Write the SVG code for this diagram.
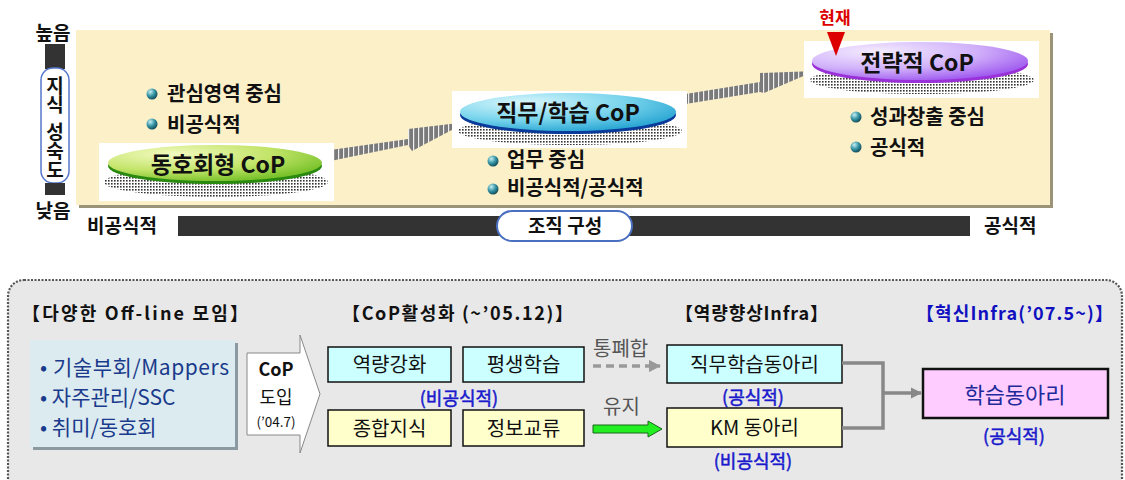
<svg xmlns="http://www.w3.org/2000/svg" width="1125" height="480" viewBox="0 0 1125 480">
<defs>
<style>
text{font-family:"Noto Sans CJK KR","Noto Sans",sans-serif;}
.lbl{font-size:20px;font-weight:bold;fill:#111;}
.ax{font-size:19px;font-weight:bold;fill:#111;}
.cop{font-size:23px;font-weight:bold;fill:#111;text-anchor:middle;}
.hdr{font-size:18px;font-weight:bold;fill:#111;}
.box{stroke:#111;stroke-width:1.5;}
.cy{fill:#ccffff;}
.ye{fill:#ffffcc;}
.bt{font-size:20px;fill:#111;text-anchor:middle;}
.blue{fill:#1a1acc;stroke:#1a1acc;stroke-width:0.5;font-size:18px;text-anchor:middle;}
.navy{font-size:21px;fill:#1a3a8c;}
.conn{fill:none;stroke:#888;stroke-width:3.5;}
.side{font-size:20px;fill:#555;}
.vt{font-size:19px;font-weight:bold;fill:#111;writing-mode:vertical-rl;text-orientation:upright;}
</style>
<radialGradient id="ball" cx="0.35" cy="0.3" r="0.75"><stop offset="0" stop-color="#c8eef2"/><stop offset="0.5" stop-color="#3a98a8"/><stop offset="1" stop-color="#0c4656"/></radialGradient>
<pattern id="dots" width="3" height="3" patternUnits="userSpaceOnUse"><rect width="1.6" height="1.6" fill="#333"/></pattern>
<pattern id="hatch" width="5" height="5" patternUnits="userSpaceOnUse"><rect width="5" height="5" fill="#7a7a7a"/><rect x="3" width="1.2" height="5" fill="#f0f0f0"/></pattern>
<radialGradient id="gGreen" cx="0.3" cy="0.25" r="0.85"><stop offset="0" stop-color="#f2fac0"/><stop offset="0.55" stop-color="#c2e468"/><stop offset="1" stop-color="#6cbc20"/></radialGradient>
<radialGradient id="gCyan" cx="0.3" cy="0.25" r="0.85"><stop offset="0" stop-color="#d8f6fc"/><stop offset="0.55" stop-color="#78d4ec"/><stop offset="1" stop-color="#20a0d0"/></radialGradient>
<radialGradient id="gPurp" cx="0.3" cy="0.25" r="0.85"><stop offset="0" stop-color="#f4ecff"/><stop offset="0.55" stop-color="#d0b0fa"/><stop offset="1" stop-color="#9a50ee"/></radialGradient>
<marker id="ah" viewBox="0 0 10 10" refX="9" refY="5" markerWidth="3.2" markerHeight="3.2" orient="auto"><path d="M0,0 L10,5 L0,10 z" fill="#888"/></marker>
<marker id="ahd" viewBox="0 0 10 10" refX="9" refY="5" markerWidth="3.5" markerHeight="3.5" orient="auto"><path d="M0,0 L10,5 L0,10 z" fill="#999"/></marker>
</defs>

<!-- top panel -->
<g id="top-panel">
<rect x="79" y="33" width="974" height="175" fill="#9c9478"/>
<rect x="76" y="30" width="974" height="175" fill="#fcf0c8"/>
</g>

<!-- vertical axis -->
<g id="axis-y">
<text class="ax" x="53" y="40" text-anchor="middle">높음</text>
<rect x="45" y="44" width="20" height="25" fill="#333"/>
<rect x="41" y="68" width="28" height="115" rx="12" fill="#fff" stroke="#5577cc" stroke-width="1.5"/>
<text class="vt" x="55" y="76">지식<tspan x="55" y="122">성숙도</tspan></text>
<rect x="45" y="183" width="20" height="12" fill="#333"/>
<text class="ax" x="53" y="218" text-anchor="middle">낮음</text>
</g>

<!-- horizontal axis -->
<g id="axis-x">
<text class="ax" x="87" y="233">비공식적</text>
<rect x="178" y="216" width="792" height="20" fill="#333"/>
<rect x="497" y="211" width="135" height="30" rx="15" fill="#fff" stroke="#4a6fc0" stroke-width="2"/>
<text class="ax" x="565" y="233" text-anchor="middle">조직 구성</text>
<text class="ax" x="984" y="233">공식적</text>
</g>

<!-- connectors top -->
<g id="top-connectors">
<polygon points="316,152 408,139 408,129 467,122 412,151 408,145 316,164" fill="url(#hatch)"/>
<polygon points="667,97 760,82 760,73 815,71 764,93 760,92 667,107" fill="url(#hatch)"/>
</g>

<!-- CoP nodes -->
<g id="cop-hobby">
<rect x="99" y="143" width="235" height="58" fill="#fff"/>
<ellipse cx="216" cy="182" rx="112" ry="15" fill="url(#dots)"/>
<ellipse cx="215" cy="166" rx="107" ry="18" fill="#2a8a10"/>
<ellipse cx="215" cy="163" rx="107" ry="18" fill="url(#gGreen)"/>
<text class="cop" x="218" y="173">동호회형 CoP</text>
</g>
<g id="cop-job">
<rect x="452" y="91" width="235" height="57" fill="#fff"/>
<ellipse cx="570" cy="131" rx="112" ry="14" fill="url(#dots)"/>
<ellipse cx="568" cy="115" rx="108" ry="19" fill="#0a3a9a"/>
<ellipse cx="568" cy="112" rx="108" ry="19" fill="url(#gCyan)"/>
<text class="cop" x="568" y="121">직무/학습 CoP</text>
</g>
<g id="cop-strategy">
<rect x="804" y="41" width="235" height="57" fill="#fff"/>
<ellipse cx="922" cy="80" rx="112" ry="14" fill="url(#dots)"/>
<ellipse cx="920" cy="64" rx="108" ry="19" fill="#9a30d8"/>
<ellipse cx="920" cy="61" rx="108" ry="19" fill="url(#gPurp)"/>
<text class="cop" x="917" y="71">전략적 CoP</text>
</g>

<!-- current marker -->
<g id="current">
<text x="835" y="24" text-anchor="middle" style="font-size:17px;font-weight:bold;fill:#dd0000;">현재</text>
<polygon points="827,32 845,32 836,56" fill="#dd0000"/>
</g>

<!-- bullets -->
<g id="bullets-hobby">
<circle cx="152" cy="94" r="5.5" fill="url(#ball)"/>
<text class="lbl" x="167" y="101">관심영역 중심</text>
<circle cx="152" cy="124" r="5.5" fill="url(#ball)"/>
<text class="lbl" x="167" y="132">비공식적</text>
</g>
<g id="bullets-job">
<circle cx="493" cy="161" r="5.5" fill="url(#ball)"/>
<text class="lbl" x="507" y="167">업무 중심</text>
<circle cx="493" cy="189" r="5.5" fill="url(#ball)"/>
<text class="lbl" x="507" y="195">비공식적/공식적</text>
</g>
<g id="bullets-strategy">
<circle cx="856" cy="117" r="5.5" fill="url(#ball)"/>
<text class="lbl" x="870" y="124">성과창출 중심</text>
<circle cx="856" cy="147" r="5.5" fill="url(#ball)"/>
<text class="lbl" x="870" y="155">공식적</text>
</g>

<!-- bottom panel -->
<g id="bottom-panel">
<rect x="8" y="280" width="1114" height="215" rx="16" fill="#e8e8e8" stroke="#555" stroke-width="2.2" stroke-dasharray="2,1.5"/>
<text class="hdr" x="22" y="320" textLength="226">【다양한 Off-line 모임】</text>
<text class="hdr" x="342" y="320" textLength="231">【CoP활성화 (~’05.12)】</text>
<text class="hdr" x="675" y="320" textLength="153">【역량향상Infra】</text>
<text class="hdr" x="916" y="320" textLength="197" style="fill:#1010c0;">【혁신Infra(’07.5~)】</text>
</g>

<g id="offline">
<rect x="33" y="343" width="205" height="107" fill="#8a9aa0"/>
<rect x="30" y="340" width="205" height="107" fill="#dcebef"/>
<text class="navy" x="40" y="375" textLength="189">• 기술부회/Mappers</text>
<text class="navy" x="40" y="405">• 자주관리/SSC</text>
<text class="navy" x="40" y="435">• 취미/동호회</text>
</g>

<g id="cop-intro">
<polygon points="247,353 300,353 300,335 320,394 300,453 300,435 247,435" fill="#fff" stroke="#888" stroke-width="1"/>
<text x="276" y="376" text-anchor="middle" style="font-size:18px;font-weight:bold;fill:#111;">CoP</text>
<text x="276" y="404" text-anchor="middle" style="font-size:18px;fill:#111;">도입</text>
<text x="276" y="427" text-anchor="middle" style="font-size:13.5px;fill:#111;">(’04.7)</text>
</g>

<g id="box-capability"><rect class="box cy" x="328" y="347" width="123" height="35"/><text class="bt" x="389.5" y="372">역량강화</text></g>
<g id="box-lifelong"><rect class="box cy" x="463" y="347" width="121" height="35"/><text class="bt" x="523.5" y="372">평생학습</text></g>
<g id="label-informal1"><text class="blue" x="459" y="405">(비공식적)</text></g>
<g id="box-knowledge"><rect class="box ye" x="328" y="410" width="123" height="36"/><text class="bt" x="389.5" y="436">종합지식</text></g>
<g id="box-info"><rect class="box ye" x="463" y="410" width="121" height="36"/><text class="bt" x="523.5" y="436">정보교류</text></g>

<g id="box-jobclub"><rect class="box cy" x="667" y="345" width="175" height="38"/><text class="bt" x="754.5" y="372">직무학습동아리</text></g>
<g id="label-formal1"><text class="blue" x="753" y="404">(공식적)</text></g>
<g id="box-km"><rect class="box ye" x="667" y="408" width="175" height="39"/><text class="bt" x="754.5" y="435">KM 동아리</text></g>
<g id="label-informal2"><text class="blue" x="753" y="468">(비공식적)</text></g>

<g id="box-learning"><rect x="923" y="369" width="185" height="49" fill="#ffccff" stroke="#111" stroke-width="2.5"/><text x="1015" y="403" text-anchor="middle" style="font-size:22px;fill:#1e2a9a;">학습동아리</text></g>
<g id="label-formal2"><text class="blue" x="1014" y="443">(공식적)</text></g>

<g id="connectors">
<text class="side" x="593" y="356">통폐합</text>
<line x1="593" y1="366" x2="660" y2="366" stroke="#999" stroke-width="3.5" stroke-dasharray="8,5" marker-end="url(#ahd)"/>
<text class="side" x="603" y="414">유지</text>
<polygon points="593,425 648,425 648,421 662,429 648,437 648,433 593,433" fill="#22ee22" stroke="#1a661a" stroke-width="1"/>
<polyline class="conn" points="842,363 883,363 883,428 842,428"/>
<line class="conn" x1="883" y1="393" x2="921" y2="393" marker-end="url(#ah)"/>
</g>
</svg>
